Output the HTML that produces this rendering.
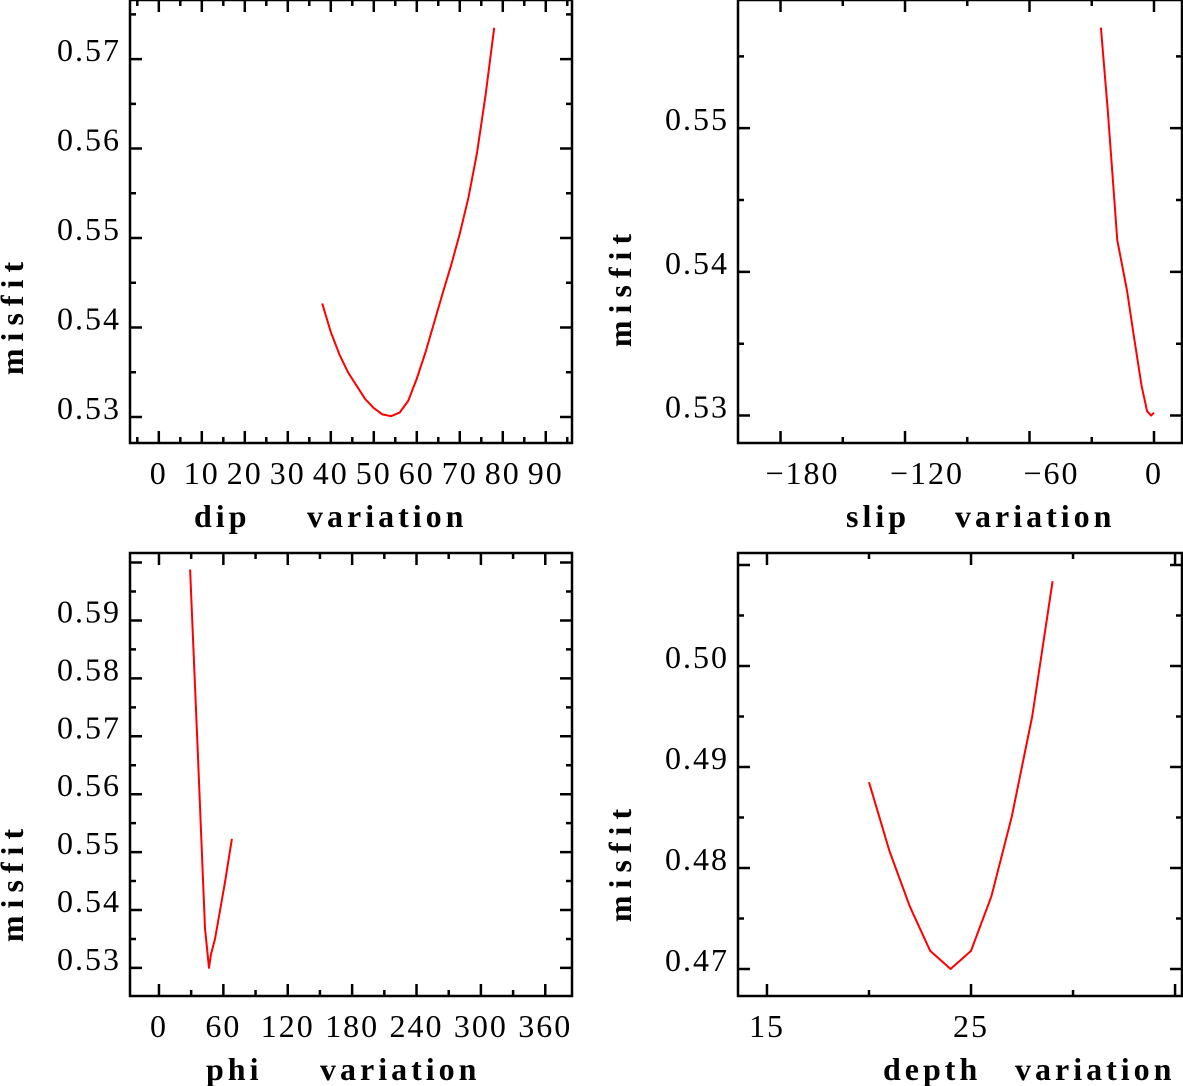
<!DOCTYPE html>
<html><head><meta charset="utf-8"><style>
html,body{margin:0;padding:0;background:#fff;}
svg{display:block;}
text{font-family:"Liberation Serif",serif;fill:#000;white-space:pre;}
.tl{font-size:32px;letter-spacing:2px;}
.at{font-size:32px;font-weight:bold;letter-spacing:4px;}
.yt{font-size:32px;font-weight:bold;letter-spacing:7px;}
</style></head><body>
<svg id="c" width="1183" height="1086" viewBox="0 0 1183 1086" xmlns="http://www.w3.org/2000/svg"></svg>
<script>
// dip panel
const dipX = [38,40,42,44,46,48,50,52,54,56,58,60,62,64,66,68,70,72,74,76,78];
const dipY = [0.5427,0.5395,0.537,0.535,0.5335,0.532,0.531,0.5303,0.5301,0.5305,0.5318,0.5343,0.5372,0.5405,0.5438,0.547,0.5505,0.5545,0.5595,0.566,0.5735];
const dipXTicks = [0,10,20,30,40,50,60,70,80,90];
const dipYTicks = [0.53,0.54,0.55,0.56,0.57];
// slip panel
const slipX = [-25.6,-22.3,-17.7,-13,-9.8,-6,-3.3,-1.4,0];
const slipY = [0.557,0.5513,0.5422,0.5387,0.5356,0.5321,0.5303,0.53,0.5302];
const slipXTicks = [-180,-120,-60,0];
const slipYTicks = [0.53,0.54,0.55];
// phi panel
const phiX = [29,36.3,42.9,46.6,48.4,52.2,61.5,68];
const phiY = [0.5988,0.5668,0.5368,0.53,0.5323,0.535,0.5448,0.5523];
const phiXTicks = [0,60,120,180,240,300,360];
const phiYTicks = [0.53,0.54,0.55,0.56,0.57,0.58,0.59];
// depth panel
const depthX = [20,21,22,23,24,25,26,27,28,29];
const depthY = [0.4885,0.4817,0.4762,0.4718,0.47,0.4718,0.4772,0.4851,0.495,0.5084];
const depthXTicks = [15,25];
const depthYTicks = [0.47,0.48,0.49,0.50];

const NS = "http://www.w3.org/2000/svg";
const svg = document.getElementById('c');
function mk(tag, attrs, parent){
  const e = document.createElementNS(NS, tag);
  for (const k in attrs) e.setAttribute(k, attrs[k]);
  (parent||svg).appendChild(e);
  return e;
}
function panel(cfg){
  const g = mk('g', {});
  
  
  const L=cfg.L,R=cfg.R,T=cfg.T,B=cfg.B;
  const sx = v => L + (v - cfg.x0) / (cfg.x1 - cfg.x0) * (R - L);
  const sy = v => B - (v - cfg.y0) / (cfg.y1 - cfg.y0) * (B - T);
  const frame = mk('rect', {x:L,y:T,width:R-L,height:B-T,fill:'none',stroke:'#000','stroke-width':2.5}, g);
  
  
  let d = '';
  for (let v = cfg.xMinorStart; v <= cfg.x1; v += cfg.xMinor){
    const isMaj = Math.abs(((v - cfg.xMajorBase) / cfg.xMajor) - Math.round((v - cfg.xMajorBase) / cfg.xMajor)) < 1e-6;
    const len = isMaj ? 12 : 6;
    if (v < cfg.x0) continue;
    const x = sx(v);
    d += `M${x},${B}v${-len}M${x},${T}v${len}`;
  }
  const ys = cfg.yTicks[1] - cfg.yTicks[0];
  for (let v = cfg.yTicks[0] - ys; v <= cfg.y1 + 1e-9; v += ys/2){
    if (v < cfg.y0) continue;
    const k = Math.round((v - cfg.yTicks[0]) / (ys/2));
    const len = (k % 2 === 0) ? 12 : 6;
    const y = sy(v);
    d += `M${L},${y}h${len}M${R},${y}h${-len}`;
  }
  const tk = mk('path', {d:d, stroke:'#000','stroke-width':2.5, fill:'none'}, g);
  
  
  cfg.xTicks.forEach(v => {
    const t = mk('text', {x:sx(v) + (v < 0 ? 22 : 0), y:B+41, 'text-anchor':'middle', class:'tl'}, g);
    
    
    t.textContent = (v < 0 ? '\u2212' + (-v) : String(v));
  });
  cfg.yTicks.forEach(v => {
    const t = mk('text', {x:L-9, y:sy(v)+2, 'text-anchor':'end', class:'tl'}, g);
    
    
    t.textContent = v.toFixed(2);
  });
  const pts = cfg.xs.map((v,i) => sx(v).toFixed(1) + ',' + sy(cfg.ys[i]).toFixed(1)).join(' ');
  const pl = mk('polyline', {points:pts, fill:'none', stroke:'#ff0000', 'stroke-width':2, 'stroke-linejoin':'round'}, g);
  
  
  const yt = mk('text', {x:0, y:0, 'text-anchor':'middle', class:'yt', transform:`translate(${cfg.ytx},${cfg.yty}) rotate(-90)`}, g);
  
  
  yt.textContent = 'misfit';
  const xt = mk('text', {x:cfg.xtx, y:cfg.xty, class:'at'}, g);
  
  
  xt.textContent = cfg.xtitle;
  const xv = mk('text', {x:cfg.xvx, y:cfg.xty, class:'at'}, g);
  
  
  xv.textContent = 'variation';
}
panel({name:'dip', L:130,R:572,T:0,B:443, x0:-6.7,x1:96.1, y0:0.5271,y1:0.5766,
  xMinorStart:-5,xMinor:5,xMajor:10,xMajorBase:0, xTicks:dipXTicks, yTicks:dipYTicks,
  xs:dipX, ys:dipY, ytx:23,yty:315, xtx:194,xvx:307,xty:527, xtitle:'dip'});
panel({name:'slip', L:738,R:1182,T:0,B:443, x0:-200.5,x1:13.5, y0:0.52809,y1:0.55892,
  xMinorStart:-210,xMinor:30,xMajor:60,xMajorBase:0, xTicks:slipXTicks, yTicks:slipYTicks,
  xs:slipX, ys:slipY, ytx:631,yty:287, xtx:846,xvx:955,xty:527, xtitle:'slip'});
panel({name:'phi', L:130,R:572,T:553,B:996, x0:-27,x1:384.9, y0:0.52515,y1:0.60165,
  xMinorStart:-30,xMinor:30,xMajor:60,xMajorBase:0, xTicks:phiXTicks, yTicks:phiYTicks,
  xs:phiX, ys:phiY, ytx:23,yty:882, xtx:206,xvx:320,xty:1080, xtitle:'phi'});
panel({name:'depth', L:738,R:1182,T:553,B:996, x0:13.58,x1:35.34, y0:0.46733,y1:0.51119,
  xMinorStart:10,xMinor:5,xMajor:10,xMajorBase:15, xTicks:depthXTicks, yTicks:depthYTicks,
  xs:depthX, ys:depthY, ytx:631,yty:862, xtx:883,xvx:1015,xty:1080, xtitle:'depth'});
</script>
</body></html>
